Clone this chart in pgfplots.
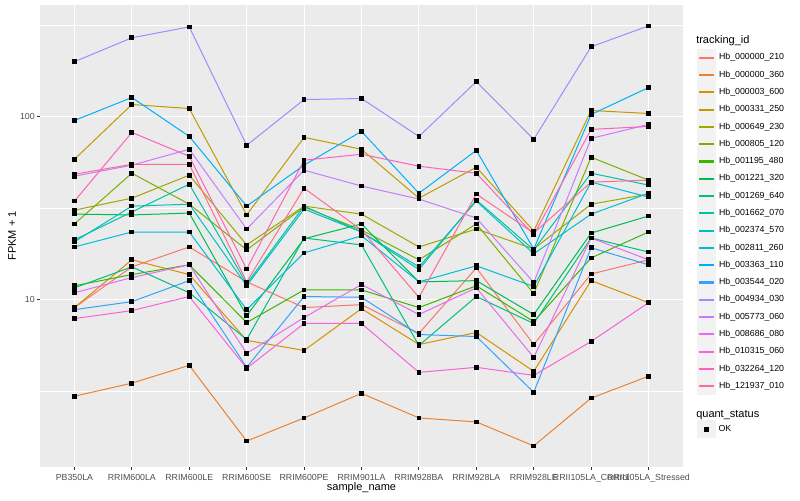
\documentclass[border=0pt]{standalone}
\usepackage{fontspec}
\setmainfont{Liberation Sans}
\usepackage{pgfplots}
\pgfplotsset{compat=1.18}
\definecolor{panel}{HTML}{EBEBEB}
\definecolor{keybg}{HTML}{F2F2F2}
\definecolor{ticktxt}{HTML}{4D4D4D}
\definecolor{tickln}{HTML}{333333}
\definecolor{c01}{HTML}{F8766D}
\definecolor{c02}{HTML}{EA8331}
\definecolor{c03}{HTML}{D89000}
\definecolor{c04}{HTML}{C09B00}
\definecolor{c05}{HTML}{A3A500}
\definecolor{c06}{HTML}{7CAE00}
\definecolor{c07}{HTML}{39B600}
\definecolor{c08}{HTML}{00BB4E}
\definecolor{c09}{HTML}{00BF7D}
\definecolor{c10}{HTML}{00C1A3}
\definecolor{c11}{HTML}{00BFC4}
\definecolor{c12}{HTML}{00BAE0}
\definecolor{c13}{HTML}{00B0F6}
\definecolor{c14}{HTML}{35A2FF}
\definecolor{c15}{HTML}{9590FF}
\definecolor{c16}{HTML}{C77CFF}
\definecolor{c17}{HTML}{E76BF3}
\definecolor{c18}{HTML}{FA62DB}
\definecolor{c19}{HTML}{FF62BC}
\definecolor{c20}{HTML}{FF6C91}
\newcommand\ttl{\fontsize{8.25}{9.5}\selectfont}
\newcommand\tck{\fontsize{6.6}{7.6}\selectfont}
\pgfplotsset{
  gl/.style={line width=0.75pt, mark=square*, mark size=1.4pt,
    mark options={draw=black, fill=black}},
  % legend keys: grey box with the series' line
  legend image code/.code={
    \fill[keybg] (0pt,-6.38pt) rectangle (12.96pt,6.38pt);
    \draw[#1,mark=none,line width=1.6pt] (0.6pt,0pt) -- (12.36pt,0pt);},
}
\begin{document}
\begin{tikzpicture}
\begin{axis}[
  at={(30pt,24.75pt)}, anchor=south west,
  scale only axis, width=482.25pt, height=346.5pt,
  set layers, mark layer=axis foreground,
  axis background/.style={fill=panel},
  axis line style={draw=none},
  ymode=log, ymin=1.22, ymax=406,
  xmin=-0.6, xmax=10.6,
  xtick={0,...,10},
  xticklabels={PB350LA,RRIM600LA,RRIM600LE,RRIM600SE,RRIM600PE,RRIM901LA,RRIM928BA,RRIM928LA,RRIM928LE,RRII105LA\_Control,RRII105LA\_Stressed},
  ytick={10,100}, yticklabels={10,100},
  minor ytick={3.1623,31.623,316.23},
  xmajorgrids, ymajorgrids, yminorgrids,
  major grid style={white, line width=0.8pt},
  minor grid style={white, line width=0.4pt},
  tick pos=left, tick align=outside,
  major tick length=2.06pt, minor tick length=0pt,
  tick style={tickln, line width=0.8pt},
  tick label style={font=\tck, text=ticktxt},
  xticklabel style={inner sep=0pt, yshift=-3.2pt},
  yticklabel style={inner sep=0pt, xshift=-1.7pt},
  xlabel={sample\_name}, ylabel={FPKM + 1},
  every axis x label/.style={at={(axis description cs:0.5,-0.0455)}, anchor=center, font=\ttl},
  every axis y label/.style={at={(axis description cs:-0.0435,0.5)}, rotate=90, anchor=center, font=\ttl},
  legend style={at={(axis description cs:1.0218,0.906)}, anchor=north west,
    draw=none, fill=none, inner sep=0pt, row sep=-0.54pt,
    font=\tck, nodes={inner sep=0pt}},
  legend cell align=left,
  /tikz/every odd column/.append style={column sep=2.6pt},
]
% Hb_000000_210
\addplot[gl, color=c01] coordinates {(0,9.05) (1,15.1) (2,19.4) (3,12.5) (4,9.05) (5,9.39) (6,6.54) (7,14.9) (8,5.69) (9,13.8) (10,16.5)};
\addlegendentry{Hb\_000000\_210}
% Hb_000000_360
\addplot[gl, color=c02] coordinates {(0,2.97) (1,3.50) (2,4.38) (3,1.69) (4,2.26) (5,3.08) (6,2.26) (7,2.15) (8,1.59) (9,2.90) (10,3.82)};
\addlegendentry{Hb\_000000\_360}
% Hb_000003_600
\addplot[gl, color=c03] coordinates {(0,9.05) (1,16.5) (2,13.7) (3,5.99) (4,5.28) (5,8.93) (6,5.69) (7,6.62) (8,4.06) (9,12.7) (10,9.63)};
\addlegendentry{Hb\_000003\_600}
% Hb_000331_250
\addplot[gl, color=c04] coordinates {(0,58.4) (1,116.2) (2,110.5) (3,29.0) (4,76.9) (5,66.2) (6,35.8) (7,52.8) (8,23.7) (9,107.8) (10,103.8)};
\addlegendentry{Hb\_000331\_250}
% Hb_000649_230
\addplot[gl, color=c05] coordinates {(0,30.8) (1,35.8) (2,47.8) (3,19.9) (4,32.4) (5,29.3) (6,19.4) (7,24.3) (8,18.9) (9,33.2) (10,37.7)};
\addlegendentry{Hb\_000649\_230}
% Hb_000805_120
\addplot[gl, color=c06] coordinates {(0,25.9) (1,49.0) (2,33.2) (3,18.7) (4,32.0) (5,24.0) (6,16.5) (7,25.9) (8,10.8) (9,59.9) (10,44.9)};
\addlegendentry{Hb\_000805\_120}
% Hb_001195_480
\addplot[gl, color=c07] coordinates {(0,11.9) (1,13.7) (2,15.5) (3,7.50) (4,11.3) (5,11.3) (6,9.05) (7,11.9) (8,7.59) (9,16.9) (10,23.4)};
\addlegendentry{Hb\_001195\_480}
% Hb_001221_320
\addplot[gl, color=c08] coordinates {(0,29.3) (1,29.0) (2,29.7) (3,8.18) (4,21.5) (5,25.9) (6,12.5) (7,12.7) (8,8.29) (9,23.1) (10,28.6)};
\addlegendentry{Hb\_001221\_320}
% Hb_001269_640
\addplot[gl, color=c09] coordinates {(0,11.6) (1,15.1) (2,10.9) (3,6.06) (4,21.7) (5,19.9) (6,5.62) (7,10.4) (8,7.41) (9,21.7) (10,18.2)};
\addlegendentry{Hb\_001269\_640}
% Hb_001662_070
\addplot[gl, color=c10] coordinates {(0,21.2) (1,30.1) (2,42.7) (3,12.2) (4,32.4) (5,23.4) (6,14.6) (7,35.0) (8,18.7) (9,49.0) (10,42.2)};
\addlegendentry{Hb\_001662\_070}
% Hb_002374_570
\addplot[gl, color=c11] coordinates {(0,20.7) (1,32.4) (2,33.2) (3,11.9) (4,31.2) (5,23.4) (6,15.1) (7,34.5) (8,17.8) (9,29.3) (10,38.1)};
\addlegendentry{Hb\_002374\_570}
% Hb_002811_260
\addplot[gl, color=c12] coordinates {(0,19.4) (1,23.4) (2,23.4) (3,8.82) (4,18.0) (5,22.3) (6,12.5) (7,15.3) (8,11.8) (9,43.8) (10,36.3)};
\addlegendentry{Hb\_002811\_260}
% Hb_003363_110
\addplot[gl, color=c13] coordinates {(0,95.1) (1,126.9) (2,77.8) (3,32.4) (4,54.2) (5,82.9) (6,38.1) (7,65.3) (8,18.9) (9,102.5) (10,143.8)};
\addlegendentry{Hb\_003363\_110}
% Hb_003544_020
\addplot[gl, color=c14] coordinates {(0,8.82) (1,9.75) (2,12.7) (3,4.27) (4,10.4) (5,10.3) (6,6.45) (7,6.29) (8,3.12) (9,19.2) (10,15.5)};
\addlegendentry{Hb\_003544\_020}
% Hb_004934_030
\addplot[gl, color=c15] coordinates {(0,199) (1,268.8) (2,308.4) (3,69.6) (4,123.7) (5,125.3) (6,77.8) (7,155) (8,75.0) (9,240.2) (10,312.3)};
\addlegendentry{Hb\_004934\_030}
% Hb_005773_060
\addplot[gl, color=c16] coordinates {(0,47.2) (1,54.2) (2,66.2) (3,24.3) (4,50.9) (5,41.7) (6,35.4) (7,27.9) (8,12.4) (9,75.9) (10,90.5)};
\addlegendentry{Hb\_005773\_060}
% Hb_008686_080
\addplot[gl, color=c17] coordinates {(0,10.9) (1,13.2) (2,15.5) (3,5.09) (4,7.98) (5,12.1) (6,8.29) (7,11.6) (8,4.84) (9,21.7) (10,16.5)};
\addlegendentry{Hb\_008686\_080}
% Hb_010315_060
\addplot[gl, color=c18] coordinates {(0,7.88) (1,8.71) (2,10.4) (3,4.22) (4,7.41) (5,7.41) (6,4.01) (7,4.27) (8,3.86) (9,5.91) (10,9.63)};
\addlegendentry{Hb\_010315\_060}
% Hb_032264_120
\addplot[gl, color=c19] coordinates {(0,34.5) (1,81.8) (2,60.6) (3,14.7) (4,57.7) (5,62.2) (6,53.5) (7,49.0) (8,22.6) (9,85.0) (10,88.2)};
\addlegendentry{Hb\_032264\_120}
% Hb_121937_010
\addplot[gl, color=c20] coordinates {(0,48.4) (1,54.8) (2,54.8) (3,12.5) (4,40.6) (5,24.0) (6,10.3) (7,37.7) (8,23.1) (9,43.8) (10,44.9)};
\addlegendentry{Hb\_121937\_010}
\end{axis}
% second legend (quant_status)
\begin{axis}[
  at={(522.75pt,46.5pt)}, anchor=south west,
  scale only axis, width=1pt, height=1pt, hide axis,
  xmin=0, xmax=1, ymin=0, ymax=1,
  legend style={at={(axis description cs:0,0)}, anchor=south west,
    draw=none, fill=none, inner sep=0pt, font=\tck, nodes={inner sep=0pt}},
  legend cell align=left,
  legend image code/.code={
    \fill[keybg] (0pt,-6.38pt) rectangle (12.96pt,6.38pt);
    \draw[black, mark=square*, mark size=1.4pt, mark options={fill=black}] plot coordinates {(6.48pt,0pt)};},
  /tikz/every odd column/.append style={column sep=2.6pt},
]
\addlegendimage{only marks}
\addlegendentry{OK}
\end{axis}
\node[anchor=base west, font=\ttl, inner sep=0pt] at (522pt,342pt) {tracking\_id};
\node[anchor=base west, font=\ttl, inner sep=0pt] at (522pt,62pt) {quant\_status};
\pgfresetboundingbox
\useasboundingbox (0,0) rectangle (600pt,375pt);
\end{tikzpicture}
\end{document}
